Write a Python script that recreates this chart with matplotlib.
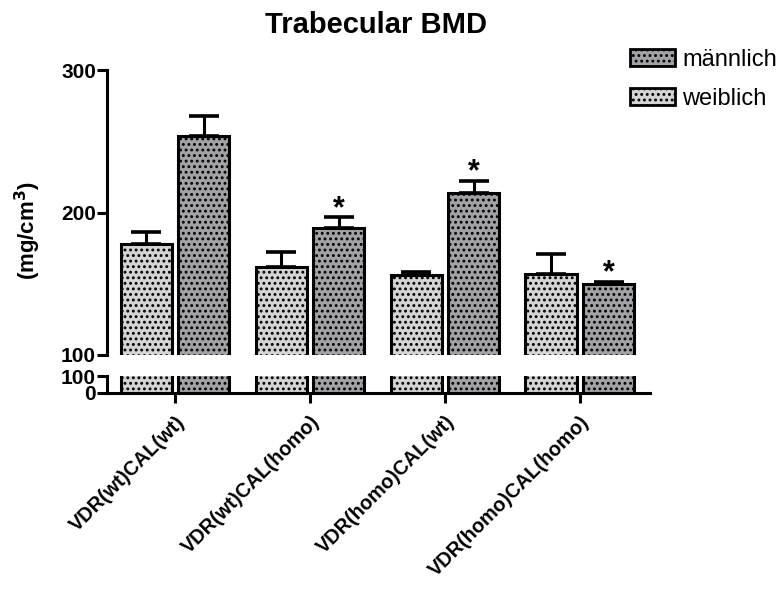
import matplotlib
matplotlib.use("Agg")
import matplotlib.pyplot as plt
import numpy as np
from matplotlib.patches import Patch

plt.rcParams['font.family'] = ['Liberation Sans', 'DejaVu Sans']
plt.rcParams['hatch.linewidth'] = 1.3

categories = ["VDR(wt)CAL(wt)", "VDR(wt)CAL(homo)", "VDR(homo)CAL(wt)", "VDR(homo)CAL(homo)"]
weiblich = [178, 162, 156, 157]
weiblich_err = [8, 10, 2, 14]
maennlich = [254, 189, 214, 150]
maennlich_err = [14, 7.5, 8, 1]
star = [False, True, True, True]

c_light = "#d4d4d4"
c_dark = "#a2a2a6"

fig = plt.figure(figsize=(7.81, 5.90), dpi=100)
ax = fig.add_axes([107/781, 1-355/590, (650-107)/781, (355-70)/590])
axb = fig.add_axes([107/781, 1-393/590, (650-107)/781, (393-376)/590])

x = np.arange(len(categories))
w = 0.38
off = 0.213

for a in (ax, axb):
    a.bar(x - off, weiblich, w, color=c_light, edgecolor="black", linewidth=2.2, hatch="...")
    a.bar(x + off, maennlich, w, color=c_dark, edgecolor="black", linewidth=2.2, hatch="...")
    a.set_xlim(-0.504, 3.52)

ax.errorbar(x - off, weiblich, yerr=[np.zeros(4), weiblich_err], fmt="none", ecolor="black",
            elinewidth=2.2, capsize=10.5, capthick=2.6)
ax.errorbar(x + off, maennlich, yerr=[np.zeros(4), maennlich_err], fmt="none", ecolor="black",
            elinewidth=2.2, capsize=10.5, capthick=2.6)
for i in range(4):
    if star[i]:
        ax.text(x[i] + off, maennlich[i] + maennlich_err[i] - 4.5, "*", ha="center", va="bottom",
                fontsize=22, fontweight="bold")

ax.set_ylim(100, 300)
ax.set_yticks([100, 200, 300])
ax.set_xticks([])
for s in ["top", "right", "bottom"]:
    ax.spines[s].set_visible(False)
ax.spines["left"].set_linewidth(2.2)
ax.tick_params(axis="y", direction="out", length=7, width=2.2, labelsize=15, pad=1)
for lab in ax.get_yticklabels():
    lab.set_fontweight("bold")

axb.set_ylim(0, 100)
axb.set_yticks([0, 100])
axb.set_xticks(x)
axb.set_xticklabels(categories, rotation=45, ha="right", rotation_mode="anchor",
                    fontsize=14.3, fontweight="bold")
for s in ["top", "right"]:
    axb.spines[s].set_visible(False)
axb.spines["left"].set_linewidth(2.2)
axb.spines["bottom"].set_linewidth(2.2)
axb.tick_params(axis="y", direction="out", length=7, width=2.2, labelsize=15, pad=1)
axb.tick_params(axis="x", direction="out", length=7, width=2.2, pad=7)
for lab in axb.get_yticklabels():
    lab.set_fontweight("bold")

fig.text(376/781, 1-25/590, "Trabecular BMD", ha="center", va="center", fontsize=21, fontweight="bold")
fig.text(28/781, 1-230/590, "(mg/cm$\\mathbf{^3}$)", ha="center", va="center", rotation=90,
         fontsize=16, fontweight="bold")

handles = [Patch(facecolor=c_dark, edgecolor="black", linewidth=2, hatch="..."),
           Patch(facecolor=c_light, edgecolor="black", linewidth=2, hatch="...")]
fig.legend(handles, ["männlich", "weiblich"], loc="upper left", bbox_to_anchor=(630/781, 1-49/590),
           frameon=False, fontsize=17, handlelength=1.9, handleheight=0.75, handletextpad=0.3,
           labelspacing=0.72, borderaxespad=0, borderpad=0)

fig.savefig("out.png", dpi=100)
